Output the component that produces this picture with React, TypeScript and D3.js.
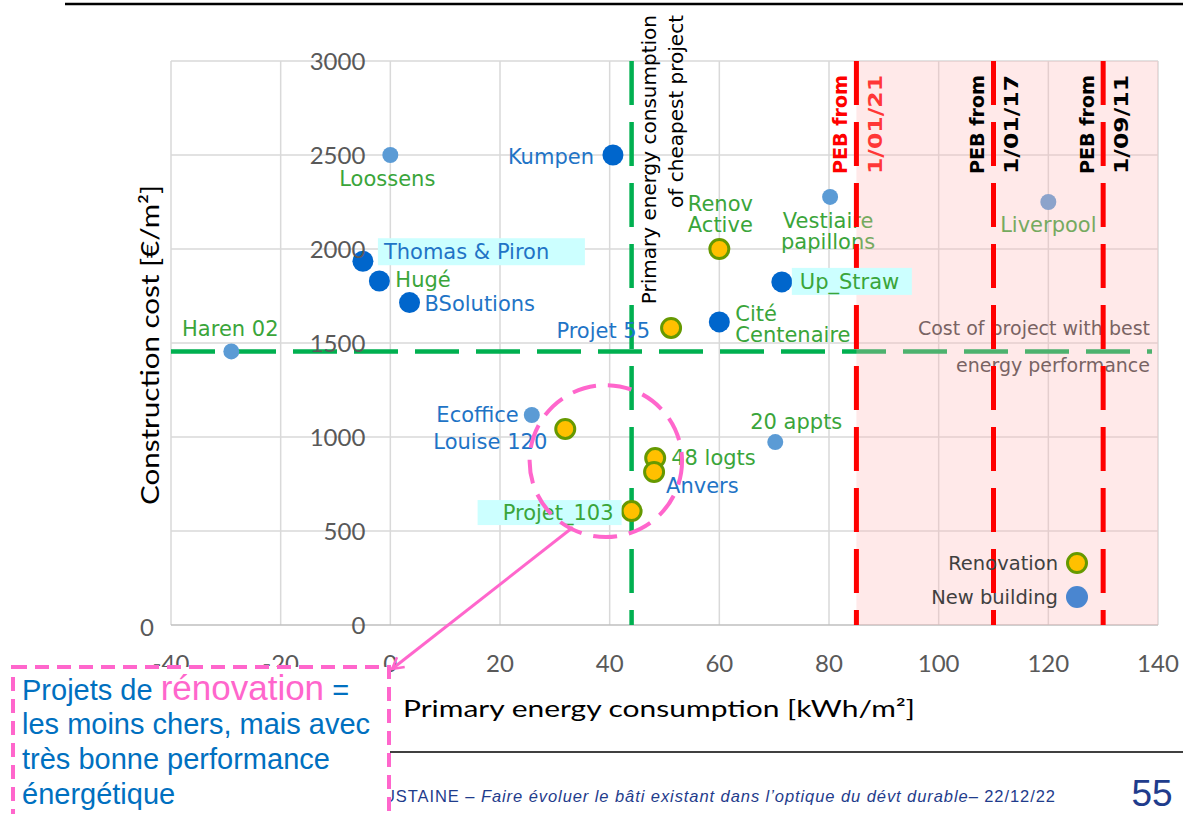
import React from "react";
import * as d3 from "d3";

// Projects: primary energy consumption (kWh/m²) and construction cost (€/m²)
const projects = [
  "Loossens", "Kumpen", "Thomas & Piron", "Hugé", "BSolutions", "Haren 02",
  "Projet 55", "Renov Active", "Cité Centenaire", "Up_Straw", "Vestiaire papillons",
  "Liverpool", "Ecoffice", "Louise 120", "48 logts", "Anvers", "Projet_103", "20 appts",
];
const energy = [0, 40.6, -5, -2, 3.5, -29, 51.2, 60, 60, 71.4, 80.2, 120, 25.8, 31.9, 48.3, 48.1, 44, 70.2];
const cost = [2500, 2500, 1935, 1830, 1715, 1455, 1580, 2000, 1612, 1825, 2277, 2250, 1117, 1043, 888, 814, 606, 973];
const projectType = [
  "newRef", "new", "new", "new", "new", "newRef", "reno", "reno", "new", "new",
  "newRef", "newRef", "newRef", "reno", "reno", "reno", "reno", "newRef",
];
const labelTone = [
  "green", "blue", "blue", "green", "blue", "green", "blue", "green", "green", "green",
  "green", "green", "blue", "blue", "green", "blue", "green", "green",
];

const xTicks = [-40, -20, 0, 20, 40, 60, 80, 100, 120, 140];
const yTicks = [0, 500, 1000, 1500, 2000, 2500, 3000];
const pebLimits = [85, 110, 130];
const pebDates = ["1/01/21", "1/01/17", "1/09/11"];
const legendLabels = ["Renovation", "New building"];
const legendTypes = ["reno", "legendNew"];

// Label placement around each marker (pixel offsets)
type Placement = {
  anchor: "start" | "middle" | "end";
  dx: number;
  dy: number[];
  lines?: string[];
  bg?: [number, number, number, number];
};
const labelLayout: Record<string, Placement> = {
  "Loossens": { anchor: "middle", dx: -3, dy: [23] },
  "Kumpen": { anchor: "end", dx: -19, dy: [1] },
  "Thomas & Piron": { anchor: "start", dx: 21, dy: [-10], bg: [15, -23, 222, 4] },
  "Hugé": { anchor: "start", dx: 16, dy: [-2] },
  "BSolutions": { anchor: "start", dx: 15, dy: [1] },
  "Haren 02": { anchor: "middle", dx: -1, dy: [-23] },
  "Projet 55": { anchor: "end", dx: -21, dy: [2] },
  "Renov Active": { anchor: "middle", dx: 1, dy: [-46, -25], lines: ["Renov", "Active"] },
  "Cité Centenaire": { anchor: "start", dx: 16, dy: [-9, 12], lines: ["Cité", "Centenaire"] },
  "Up_Straw": { anchor: "start", dx: 18, dy: [0], bg: [10, -14, 130, 13] },
  "Vestiaire papillons": { anchor: "middle", dx: -2, dy: [24, 45], lines: ["Vestiaire", "papillons"] },
  "Liverpool": { anchor: "middle", dx: 0, dy: [22] },
  "Ecoffice": { anchor: "end", dx: -13, dy: [-1] },
  "Louise 120": { anchor: "end", dx: -18, dy: [13] },
  "48 logts": { anchor: "start", dx: 16, dy: [-1] },
  "Anvers": { anchor: "start", dx: 12, dy: [13] },
  "Projet_103": { anchor: "end", dx: -18, dy: [1], bg: [-154, -11, -10, 14] },
  "20 appts": { anchor: "middle", dx: 21, dy: [-21] },
};

const COLORS = {
  grid: "#D9D9D9",
  axis: "#BFBFBF",
  tick: "#595959",
  newDark: "#0066CC",
  newLight: "#5B9BD5",
  legendNew: "#4A86D0",
  renoFill: "#FFC000",
  renoStroke: "#669900",
  blueText: "#1F74C6",
  greenText: "#3AA53A",
  green: "#00B050",
  red: "#FF0000",
  pink: "#FF66CC",
  cyan: "#CCFFFF",
  navy: "#1F3C8C",
  calloutBlue: "#0070C0",
};

const W = 1183;
const H = 814;
const LABEL_FONT = "'DejaVu Sans', Verdana, sans-serif";
const TICK_FONT = "Lato, 'Liberation Sans', sans-serif";
const ARIAL = "'Liberation Sans', Arial, sans-serif";

const x = d3.scaleLinear().domain([-40, 140]).range([171, 1158]);
const y = d3.scaleLinear().domain([0, 3000]).range([625, 61]);

function Marker({ type, cx, cy }: { type: string; cx: number; cy: number }) {
  if (type === "reno") {
    return <circle cx={cx} cy={cy} r={9.5} fill={COLORS.renoFill} stroke={COLORS.renoStroke} strokeWidth={3} />;
  }
  if (type === "new") return <circle cx={cx} cy={cy} r={10.5} fill={COLORS.newDark} />;
  if (type === "legendNew") return <circle cx={cx} cy={cy} r={11} fill={COLORS.legendNew} />;
  return <circle cx={cx} cy={cy} r={8} fill={COLORS.newLight} />;
}

export default function App() {
  const [x0, x1] = x.range();
  const [yBottom, yTop] = y.range();

  // Reference lines derived from the data
  const cheapestIdx = d3.minIndex(cost);
  const bestEnergyIdx = d3.minIndex(energy);
  const cheapestEnergy = energy[cheapestIdx];
  const bestEnergyCost = cost[bestEnergyIdx];
  const vx = x(cheapestEnergy);
  const hy = y(bestEnergyCost);

  const pts = projects.map((name, i) => ({
    name,
    px: x(energy[i]),
    py: y(cost[i]),
    type: projectType[i],
    tone: labelTone[i],
  }));

  // Renovation cluster annotation (data coordinates)
  const ringCenter = [39.3, 872];
  const ringHalf = [13.9, 404];
  const ringCx = x(ringCenter[0]);
  const ringCy = y(ringCenter[1]);
  const ringRx = x(ringCenter[0] + ringHalf[0]) - ringCx;
  const ringRy = ringCy - y(ringCenter[1] + ringHalf[1]);
  const arrowFrom = [x(33.3), y(520)];
  const arrowTo = [392, 669];

  const renderLabel = (p: (typeof pts)[number], key: string) => {
    const lay = labelLayout[p.name];
    const lines = lay.lines ?? [p.name];
    const fill = p.tone === "blue" ? COLORS.blueText : COLORS.greenText;
    return (
      <g key={key}>
        {lay.bg && (
          <rect
            x={p.px + lay.bg[0]}
            y={p.py + lay.bg[1]}
            width={lay.bg[2] - lay.bg[0]}
            height={lay.bg[3] - lay.bg[1]}
            fill={COLORS.cyan}
          />
        )}
        {lines.map((t, j) => (
          <text
            key={j}
            x={p.px + lay.dx}
            y={p.py + lay.dy[j]}
            dy="0.36em"
            textAnchor={lay.anchor}
            fontFamily={LABEL_FONT}
            fontSize={21}
            fill={fill}
          >
            {t}
          </text>
        ))}
      </g>
    );
  };

  const dash = "44 17";
  const plain = pts.filter((p) => !labelLayout[p.name].bg);
  const boxed = pts.filter((p) => labelLayout[p.name].bg);

  return (
    <svg
      width={W}
      height={H}
      viewBox={`0 0 ${W} ${H}`}
      style={{ position: "absolute", left: 0, top: 0, background: "#fff" }}
    >
      <defs>
        <marker id="openArrow" viewBox="0 0 12 12" refX="10" refY="6" markerWidth="5" markerHeight="5" orient="auto">
          <path d="M1,1 L10,6 L1,11" fill="none" stroke={COLORS.pink} strokeWidth={2} />
        </marker>
      </defs>

      {/* slide header rule */}
      <line x1={65} x2={W} y1={4} y2={4} stroke="#000" strokeWidth={2.5} />

      {/* gridlines */}
      <g>
        {xTicks.map((t) => (
          <line key={`gx${t}`} x1={x(t)} x2={x(t)} y1={yTop} y2={yBottom} stroke={COLORS.grid} strokeWidth={1.5} />
        ))}
        {yTicks.map((t) => (
          <line
            key={`gy${t}`}
            x1={x0}
            x2={x1}
            y1={y(t)}
            y2={y(t)}
            stroke={t === 0 ? COLORS.axis : COLORS.grid}
            strokeWidth={1.5}
          />
        ))}
      </g>

      {/* cheapest project / best energy performance reference lines */}
      <line x1={x0} x2={x1 - 6} y1={hy} y2={hy} stroke={COLORS.green} strokeWidth={4.5} strokeDasharray={dash} />
      <line x1={vx} x2={vx} y1={yTop} y2={yBottom} stroke={COLORS.green} strokeWidth={4.5} strokeDasharray={dash} />

      {/* plain labels and markers (those inside the pink zone sit under its tint) */}
      {plain.map((p, i) => renderLabel(p, `l${i}`))}
      {pts.map((p, i) => (
        <Marker key={`m${i}`} type={p.type} cx={p.px} cy={p.py} />
      ))}

      <text x={1150} y={hy - 23} dy="0.36em" textAnchor="end" fontFamily={LABEL_FONT} fontSize={19} fill="#404040">
        Cost of project with best
      </text>
      <text x={1150} y={hy + 14} dy="0.36em" textAnchor="end" fontFamily={LABEL_FONT} fontSize={19} fill="#404040">
        energy performance
      </text>

      {/* date of the most recent PEB threshold, tinted by the zone */}
      <text
        transform={`translate(${x(pebLimits[0]) + 19},174) rotate(-90)`}
        dy="0.36em"
        textAnchor="start"
        fontFamily={LABEL_FONT}
        fontWeight="bold"
        fontSize={19}
        textLength={99}
        lengthAdjust="spacingAndGlyphs"
        fill={COLORS.red}
      >
        {pebDates[0]}
      </text>

      {/* zone beyond the PEB 2021 requirement */}
      <rect
        x={x(pebLimits[0])}
        y={yTop}
        width={x1 - x(pebLimits[0])}
        height={yBottom - yTop}
        fill="#FFB6B6"
        opacity={0.3}
      />

      {/* PEB thresholds */}
      {pebLimits.map((v, i) => (
        <g key={`peb${i}`}>
          <line x1={x(v)} x2={x(v)} y1={yTop} y2={yBottom} stroke={COLORS.red} strokeWidth={5} strokeDasharray={dash} />
          <text
            transform={`translate(${x(v) - 16},174) rotate(-90)`}
            dy="0.36em"
            textAnchor="start"
            fontFamily={LABEL_FONT}
            fontWeight="bold"
            fontSize={19}
            textLength={99}
            lengthAdjust="spacingAndGlyphs"
            fill={i === 0 ? COLORS.red : "#000"}
          >
            PEB from
          </text>
          {i > 0 && (
            <text
              transform={`translate(${x(v) + 18},174) rotate(-90)`}
              dy="0.36em"
              textAnchor="start"
              fontFamily={LABEL_FONT}
              fontWeight="bold"
              fontSize={19}
              textLength={99}
              lengthAdjust="spacingAndGlyphs"
              fill="#000"
            >
              {pebDates[i]}
            </text>
          )}
        </g>
      ))}

      {/* highlighted labels */}
      {boxed.map((p, i) => renderLabel(p, `b${i}`))}

      {/* cheapest project annotation */}
      <text
        transform={`translate(${vx + 17},15) rotate(-90)`}
        dy="0.36em"
        textAnchor="end"
        fontFamily={LABEL_FONT}
        fontSize={20}
        fill="#000"
      >
        Primary energy consumption
      </text>
      <text
        transform={`translate(${vx + 44},15) rotate(-90)`}
        dy="0.36em"
        textAnchor="end"
        fontFamily={LABEL_FONT}
        fontSize={20}
        fill="#000"
      >
        of cheapest project
      </text>

      {/* legend */}
      {legendLabels.map((lab, i) => (
        <g key={`lg${i}`}>
          <text
            x={1058}
            y={563 + i * 33.5}
            dy="0.36em"
            textAnchor="end"
            fontFamily={LABEL_FONT}
            fontSize={19.5}
            fill="#404040"
          >
            {lab}
          </text>
          <Marker type={legendTypes[i]} cx={1077} cy={563 + i * 34} />
        </g>
      ))}

      {/* axis tick labels */}
      {yTicks.map((t) => (
        <text
          key={`ty${t}`}
          x={x(0) - 25}
          y={y(t)}
          dy="0.36em"
          textAnchor="end"
          fontFamily={TICK_FONT}
          fontSize={24}
          fill={COLORS.tick}
        >
          {t}
        </text>
      ))}
      <text x={147} y={y(0) + 2} dy="0.36em" textAnchor="middle" fontFamily={TICK_FONT} fontSize={24} fill={COLORS.tick}>
        0
      </text>
      {xTicks.map((t) => (
        <text
          key={`tx${t}`}
          x={x(t)}
          y={yBottom + 47}
          textAnchor="middle"
          fontFamily={TICK_FONT}
          fontSize={24}
          fill={COLORS.tick}
        >
          {t}
        </text>
      ))}

      {/* axis titles */}
      <text
        transform={`translate(150,345) rotate(-90)`}
        dy="0.36em"
        textAnchor="middle"
        fontFamily={TICK_FONT}
        fontSize={25}
        textLength={320}
        lengthAdjust="spacingAndGlyphs"
        fill="#000"
      >
        Construction cost [€/m²]
      </text>
      <text
        x={659}
        y={717}
        textAnchor="middle"
        fontFamily={TICK_FONT}
        fontSize={24}
        textLength={512}
        lengthAdjust="spacingAndGlyphs"
        fill="#000"
      >
        Primary energy consumption [kWh/m²]
      </text>

      {/* renovation cluster highlight */}
      <ellipse
        cx={ringCx}
        cy={ringCy}
        rx={ringRx}
        ry={ringRy}
        fill="none"
        stroke={COLORS.pink}
        strokeWidth={4}
        strokeDasharray="24 12"
      />
      <line
        x1={arrowFrom[0]}
        y1={arrowFrom[1]}
        x2={arrowTo[0]}
        y2={arrowTo[1]}
        stroke={COLORS.pink}
        strokeWidth={3}
        markerEnd="url(#openArrow)"
      />

      {/* footer */}
      <line x1={390} x2={W} y1={752} y2={752} stroke="#000" strokeWidth={1.5} />
      <text x={383} y={802} fontFamily={ARIAL} fontSize={16.5} fill={COLORS.navy} textLength={672}>
        USTAINE <tspan>– </tspan>
        <tspan fontStyle="italic">Faire évoluer le bâti existant dans l’optique du dévt durable</tspan>
        <tspan>– 22/12/22</tspan>
      </text>
      <text x={1152} y={806} textAnchor="middle" fontFamily={ARIAL} fontSize={37} fill={COLORS.navy}>
        55
      </text>

      {/* callout */}
      <rect
        x={13}
        y={667}
        width={376}
        height={175}
        fill="#fff"
        stroke={COLORS.pink}
        strokeWidth={4}
        strokeDasharray="14 8"
      />
      <g fontFamily={ARIAL} fontSize={29} fill={COLORS.calloutBlue}>
        <text x={22} y={700}>
          Projets de <tspan fill={COLORS.pink} fontSize={35}>rénovation</tspan> =
        </text>
        <text x={22} y={734}>les moins chers, mais avec</text>
        <text x={22} y={769}>très bonne performance</text>
        <text x={22} y={804}>énergétique</text>
      </g>
    </svg>
  );
}
